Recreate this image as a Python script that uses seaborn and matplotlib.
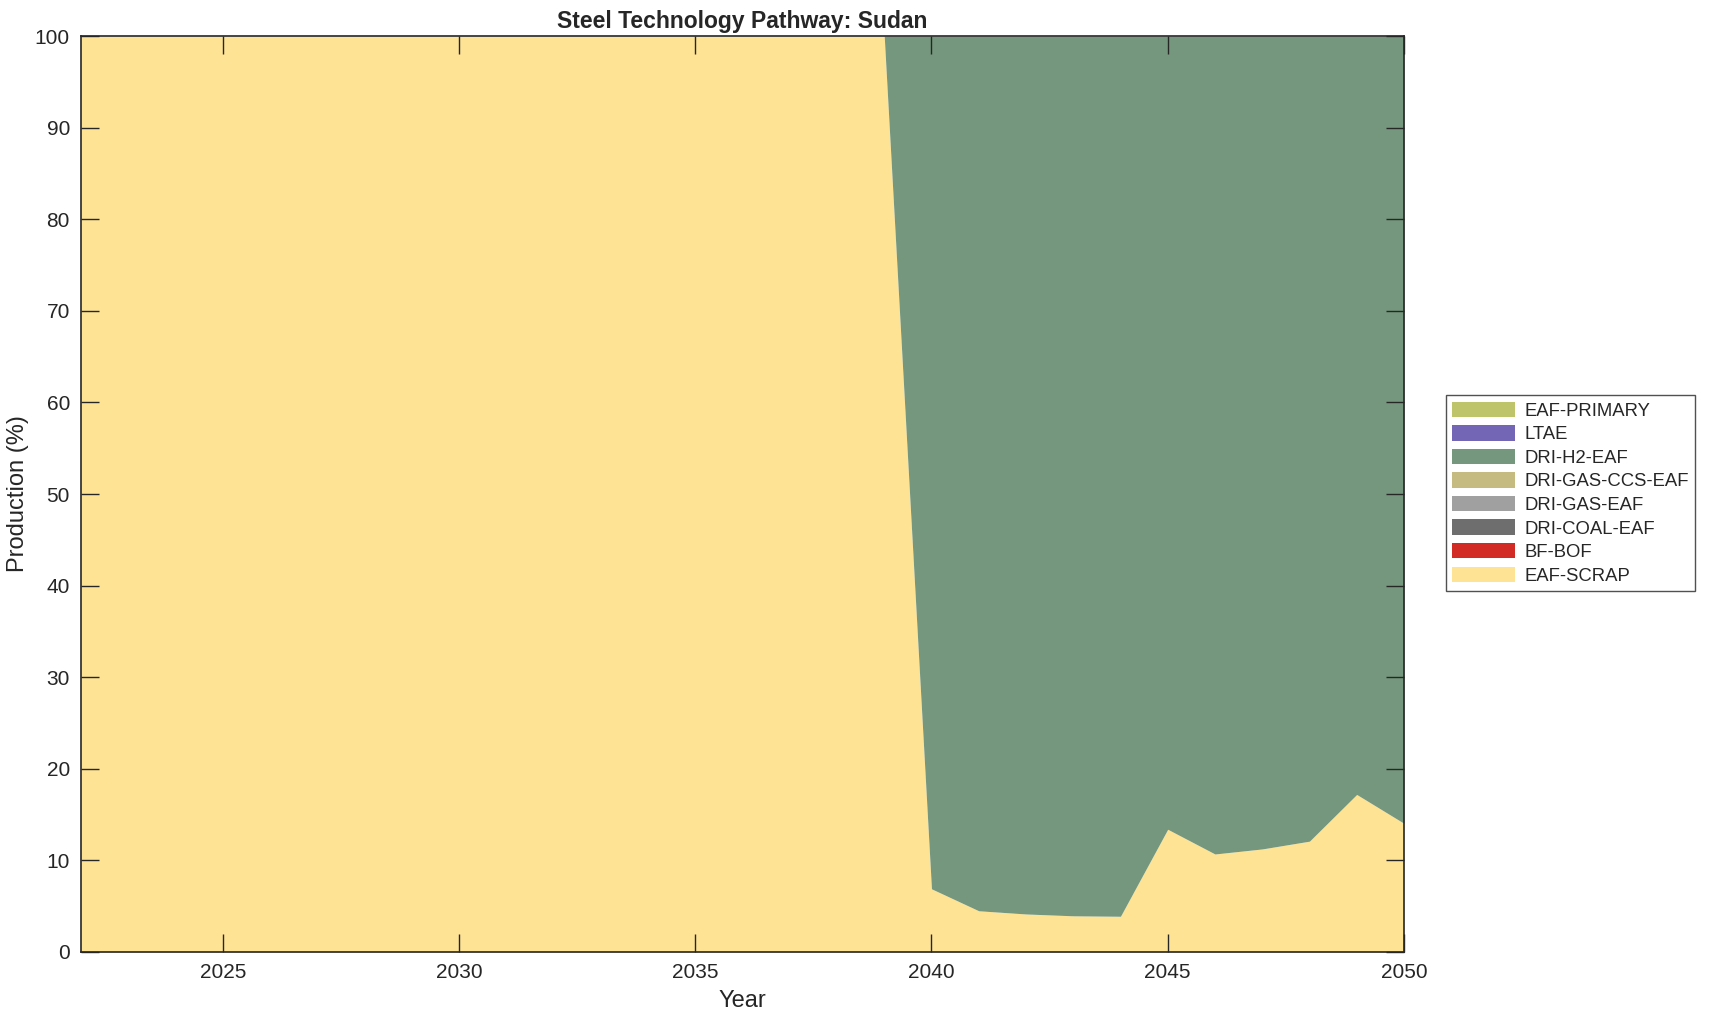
import numpy as np
import pandas as pd
import matplotlib
matplotlib.use("Agg")
import matplotlib.pyplot as plt
import seaborn as sns
from matplotlib.patches import Patch

years = list(range(2022, 2051))
eaf_scrap = [100]*18 + [6.9, 4.5, 4.15, 3.95, 3.9, 13.4, 10.7, 11.25, 12.1, 17.2, 14.05]
bf_bof = [0]*29
dri_coal = [0]*29
dri_gas = [0]*29
dri_gas_ccs = [0]*29
dri_h2 = [100 - v for v in eaf_scrap]
ltae = [0]*29
eaf_primary = [0]*29

techs = ["EAF-SCRAP", "BF-BOF", "DRI-COAL-EAF", "DRI-GAS-EAF", "DRI-GAS-CCS-EAF",
         "DRI-H2-EAF", "LTAE", "EAF-PRIMARY"]
colors = ["#FEE395", "#D22B26", "#6E6E6E", "#A0A0A0", "#C5BB80",
          "#75977D", "#7366B5", "#BDC46A"]

df = pd.DataFrame({"Year": years, "EAF-SCRAP": eaf_scrap, "BF-BOF": bf_bof,
                   "DRI-COAL-EAF": dri_coal, "DRI-GAS-EAF": dri_gas,
                   "DRI-GAS-CCS-EAF": dri_gas_ccs, "DRI-H2-EAF": dri_h2,
                   "LTAE": ltae, "EAF-PRIMARY": eaf_primary})

sns.set_theme(style="ticks")
plt.rcParams['font.family'] = ['Liberation Sans', 'DejaVu Sans']

fig = plt.figure(figsize=(17.09, 10.21), dpi=100)
ax = fig.add_axes([0.0474, 0.0676, 0.8215 - 0.0474, 0.9647 - 0.0676])
ax.stackplot(df["Year"], *[df[t] for t in techs], colors=colors, linewidth=0)
ax.set_axisbelow(False)

ax.set_xlim(2022, 2050)
ax.set_ylim(0, 100)
ax.set_xticks([2025, 2030, 2035, 2040, 2045, 2050])
ax.set_yticks(range(0, 101, 10))
ax.tick_params(direction="in", length=13, width=1.0, bottom=True, left=True,
               top=True, right=True, labelsize=15, colors="#262626", pad=8)
for s in ax.spines.values():
    s.set_color("#262626")
    s.set_linewidth(1.2)
    s.set_zorder(5)
ax.set_xlabel("Year", fontsize=17, color="#262626", labelpad=6)
ax.set_ylabel("Production (%)", fontsize=17, color="#262626", labelpad=4)
ax.set_title("Steel Technology Pathway: Sudan", fontsize=16.5, fontweight="bold", pad=6)

handles = [Patch(facecolor=c, edgecolor="none", label=t) for t, c in zip(techs, colors)][::-1]
leg = fig.legend(handles=handles, loc="upper left", bbox_to_anchor=(0.846, 0.613),
                 fontsize=13.3, frameon=True, fancybox=False, handlelength=3.4,
                 handleheight=0.9, labelspacing=0.3, borderpad=0.35, handletextpad=0.5,
                 borderaxespad=0)
leg.get_frame().set_edgecolor("#262626")
leg.get_frame().set_linewidth(1.0)

fig.savefig("out.png", dpi=100)
